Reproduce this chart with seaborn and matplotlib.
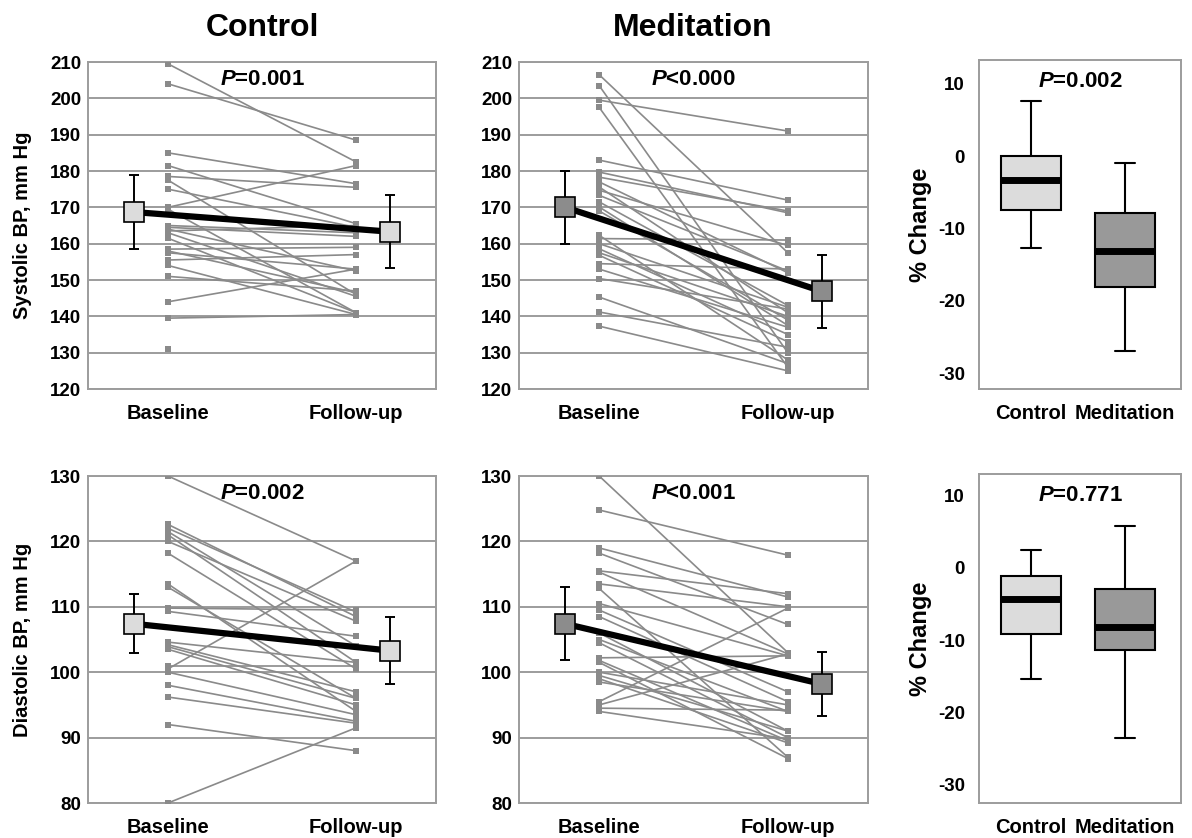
import numpy as np
import pandas as pd
import matplotlib
matplotlib.use("Agg")
import matplotlib.pyplot as plt
import seaborn as sns

# ---------------- data ----------------
timepoints = ["Baseline", "Follow-up"]
groups = ["Control", "Meditation"]

# Systolic BP (mm Hg), one entry per participant
ctrl_sbp_base = [209.5, 204, 185, 181.5, 178.5, 177.5, 175, 170, 169.5, 165, 164.5, 164,
                 163.5, 163, 161.5, 158.5, 158, 157.5, 155.5, 154, 151, 144, 139.5, 131]
ctrl_sbp_follow = [182.5, 188.5, 176.5, 165.5, 175.5, 146, 164.5, 181.5, 141, 163, 162, 152.5,
                   165, 145.5, 141, 159, 146.5, 153, 157, 140.5, 147, 153, 140.5, np.nan]
med_sbp_base = [206.5, 203.5, 199.5, 197.5, 183, 179.7, 178.3, 177, 175.6, 174.7, 173.3, 171.5,
                170.1, 169, 162.3, 161.4, 160, 158.6, 157.5, 156.8, 154.5, 153, 150.4, 145.3,
                141.2, 137.3]
med_sbp_follow = [157.5, 130, 191, 126, 172, 168.5, 169, 152, 141, 159.5, 152.5, 143,
                  137.5, 139, 128, 161, 142.5, 135, 140, 133, 153, 137, 142, 127,
                  131.5, 125]

# Diastolic BP (mm Hg)
ctrl_dbp_base = [130, 122.6, 122, 121.5, 121, 120, 118.2, 113.5, 113, 109.8, 109.3, 104.6,
                 104.2, 103.9, 103.5, 101, 100.5, 100, 98, 96.2, 92, 80]
ctrl_dbp_follow = [117, 108.5, 109.2, 104, 101.5, 107.8, 100.5, 94, 96, 109.5, 105.5, 101.5,
                   97, 96, 95, 101, 117, 93.5, 92.5, 92.2, 88, 91.5]
med_dbp_base = [130, 124.8, 119, 118.2, 115.5, 115.3, 113.5, 112.8, 110.5, 109.5, 108.5, 106,
                105, 104.5, 102.2, 101.8, 101.5, 100, 99.5, 99, 98.5, 95.5, 95, 94.5, 94]
med_dbp_follow = [103, 117.9, 111.5, 107.3, 112, 102.8, 110, 87, 102.5, 97, 95.5, 91,
                  94, 90, 102.5, 89.5, 86.8, 95, 91, 89.2, 94, 109.8, 102.8, 94.2, 89.8]

# Group means (baseline, follow-up) with error half-widths
ctrl_sbp_mean = [168.7, 163.3]
ctrl_sbp_err = [10.1, 10.1]
med_sbp_mean = [170.0, 146.9]
med_sbp_err = [10.1, 10.1]
ctrl_dbp_mean = [107.4, 103.3]
ctrl_dbp_err = [4.5, 5.1]
med_dbp_mean = [107.4, 98.2]
med_dbp_err = [5.6, 4.9]

# Percent change five-number summaries: min, Q1, median, Q3, max
sbp_pct_ctrl = [-12.7, -7.4, -3.3, 0.0, 7.6]
sbp_pct_med = [-27.0, -18.1, -13.1, -7.8, -1.0]
dbp_pct_ctrl = [-15.4, -9.1, -4.3, -1.1, 2.5]
dbp_pct_med = [-23.5, -11.4, -8.2, -2.9, 5.8]

p_labels = {
    "ctrl_sbp": "=0.001", "med_sbp": "<0.000", "sbp_box": "=0.002",
    "ctrl_dbp": "=0.002", "med_dbp": "<0.001", "dbp_box": "=0.771",
}

# ---------------- style ----------------
sns.set_style("white")
plt.rcParams["font.family"] = ["Liberation Sans", "DejaVu Sans"]
plt.rcParams["font.weight"] = "bold"
plt.rcParams["mathtext.fontset"] = "custom"
plt.rcParams["mathtext.it"] = "Liberation Sans:italic:bold"
plt.rcParams["mathtext.rm"] = "Liberation Sans:bold"
plt.rcParams["text.color"] = "black"
plt.rcParams["axes.labelcolor"] = "black"
plt.rcParams["xtick.color"] = "black"
plt.rcParams["ytick.color"] = "black"
plt.rcParams["axes.unicode_minus"] = False

GRID = "#9c9c9c"
LINE = "#8a8a8a"
LIGHT = "#dcdcdc"
DARK = "#8c8c8c"
BOX_DARK = "#999999"
BOX_WIDTH = 0.63
CAP_WIDTH = 0.21

fig = plt.figure(figsize=(11.92, 8.38), dpi=100)
W, H = 1192, 838


def add_axes(x0, y0, x1, y1):
    return fig.add_axes([x0 / W, 1 - y1 / H, (x1 - x0) / W, (y1 - y0) / H])


def style_frame(ax):
    for s in ax.spines.values():
        s.set_color(GRID)
        s.set_linewidth(1.4)


def spaghetti(ax, base, follow, mean, err, face, ylim, yticks, ptxt):
    n = len(base)
    df = pd.DataFrame({
        "subject": np.tile(np.arange(n), 2),
        "time": np.repeat([1, 2], n),
        "value": np.concatenate([base, follow]),
    })
    sns.lineplot(data=df, x="time", y="value", units="subject", estimator=None,
                 color=LINE, lw=1.2, marker="s", markersize=4, markeredgewidth=0,
                 ax=ax, zorder=3)
    xm = [1 - 0.18, 2 + 0.18]
    ax.plot(xm, mean, color="black", lw=4.5, zorder=4, solid_capstyle="butt")
    ax.errorbar(xm, mean, yerr=err, fmt="none", ecolor="black", elinewidth=1.4,
                capsize=3.5, capthick=1.4, zorder=5)
    ax.plot(xm, mean, ls="none", marker="s", markersize=14, mfc=face, mec="black",
            mew=1.2, zorder=6)
    ax.set_xlim(0.575, 2.425)
    ax.set_ylim(*ylim)
    ax.set_yticks(yticks)
    ax.set_xticks([1, 2])
    ax.set_xticklabels(timepoints)
    ax.yaxis.grid(True, color=GRID, lw=1.4)
    ax.xaxis.grid(False)
    ax.set_axisbelow(True)
    ax.set_xlabel("")
    ax.set_ylabel("")
    ax.tick_params(axis="y", length=0, labelsize=13.5, pad=5)
    ax.tick_params(axis="x", length=0, labelsize=14.5, pad=11)
    style_frame(ax)
    ax.text(0.5, 0.945, "$P$" + ptxt, transform=ax.transAxes, ha="center",
            va="center", fontsize=16, fontweight="bold", zorder=7)


def boxpanel(ax, ctrl, med, ptxt):
    df = pd.DataFrame({"group": np.repeat(groups, 5),
                       "pct": np.concatenate([ctrl, med])})
    sns.boxplot(data=df, x="group", y="pct", hue="group",
                palette={"Control": LIGHT, "Meditation": BOX_DARK},
                saturation=1, width=BOX_WIDTH, whis=(0, 100), linecolor="black",
                linewidth=1.5, fliersize=0, legend=False, ax=ax,
                medianprops={"linewidth": 5, "color": "black"})
    # narrower whisker caps
    for ln in ax.lines:
        xs = np.asarray(ln.get_xdata(), dtype=float)
        ys = np.asarray(ln.get_ydata(), dtype=float)
        if len(xs) == 2 and ys[0] == ys[1]:
            span = abs(xs[1] - xs[0])
            if 0 < span < BOX_WIDTH * 0.9:
                c = xs.mean()
                ln.set_xdata([c - CAP_WIDTH / 2, c + CAP_WIDTH / 2])
    ax.set_xlim(-0.553, 1.596)
    ax.set_yticks([-30, -20, -10, 0, 10])
    ax.set_xlabel("")
    ax.set_ylabel("% Change", fontsize=17, fontweight="bold")
    ax.yaxis.set_label_coords(-0.233, 0.5)
    ax.tick_params(axis="y", length=9, width=1.3, color=GRID, labelsize=13.5, pad=1)
    ax.tick_params(axis="x", length=0, labelsize=14.5, pad=11)
    style_frame(ax)
    ax.text(0.5, 0.935, "$P$" + ptxt, transform=ax.transAxes, ha="center",
            va="center", fontsize=16, fontweight="bold", zorder=7)


# ---------------- top row: systolic ----------------
ax1 = add_axes(88, 62, 436, 389)
spaghetti(ax1, ctrl_sbp_base, ctrl_sbp_follow, ctrl_sbp_mean, ctrl_sbp_err, LIGHT,
          (120, 210), np.arange(120, 211, 10), p_labels["ctrl_sbp"])
ax1.set_ylabel("Systolic BP, mm Hg", fontsize=14.5, fontweight="bold")
ax1.yaxis.set_label_coords(-0.161, 0.5)

ax2 = add_axes(519, 62, 868, 389)
spaghetti(ax2, med_sbp_base, med_sbp_follow, med_sbp_mean, med_sbp_err, DARK,
          (120, 210), np.arange(120, 211, 10), p_labels["med_sbp"])

ax3 = add_axes(979, 60, 1181, 389)
boxpanel(ax3, sbp_pct_ctrl, sbp_pct_med, p_labels["sbp_box"])
ax3.set_ylim(-32.2, 13.3)

# ---------------- bottom row: diastolic ----------------
ax4 = add_axes(88, 476, 436, 803)
spaghetti(ax4, ctrl_dbp_base, ctrl_dbp_follow, ctrl_dbp_mean, ctrl_dbp_err, LIGHT,
          (80, 130), np.arange(80, 131, 10), p_labels["ctrl_dbp"])
ax4.set_ylabel("Diastolic BP, mm Hg", fontsize=14.5, fontweight="bold")
ax4.yaxis.set_label_coords(-0.161, 0.5)

ax5 = add_axes(519, 476, 868, 803)
spaghetti(ax5, med_dbp_base, med_dbp_follow, med_dbp_mean, med_dbp_err, DARK,
          (80, 130), np.arange(80, 131, 10), p_labels["med_dbp"])

ax6 = add_axes(979, 474, 1181, 803)
boxpanel(ax6, dbp_pct_ctrl, dbp_pct_med, p_labels["dbp_box"])
ax6.set_ylim(-32.5, 13.0)

# column titles
fig.text(262 / W, 1 - 28 / H, "Control", ha="center", va="center", fontsize=23,
         fontweight="bold")
fig.text(693 / W, 1 - 28 / H, "Meditation", ha="center", va="center", fontsize=23,
         fontweight="bold")

fig.savefig("out.png", dpi=100, facecolor="white")
